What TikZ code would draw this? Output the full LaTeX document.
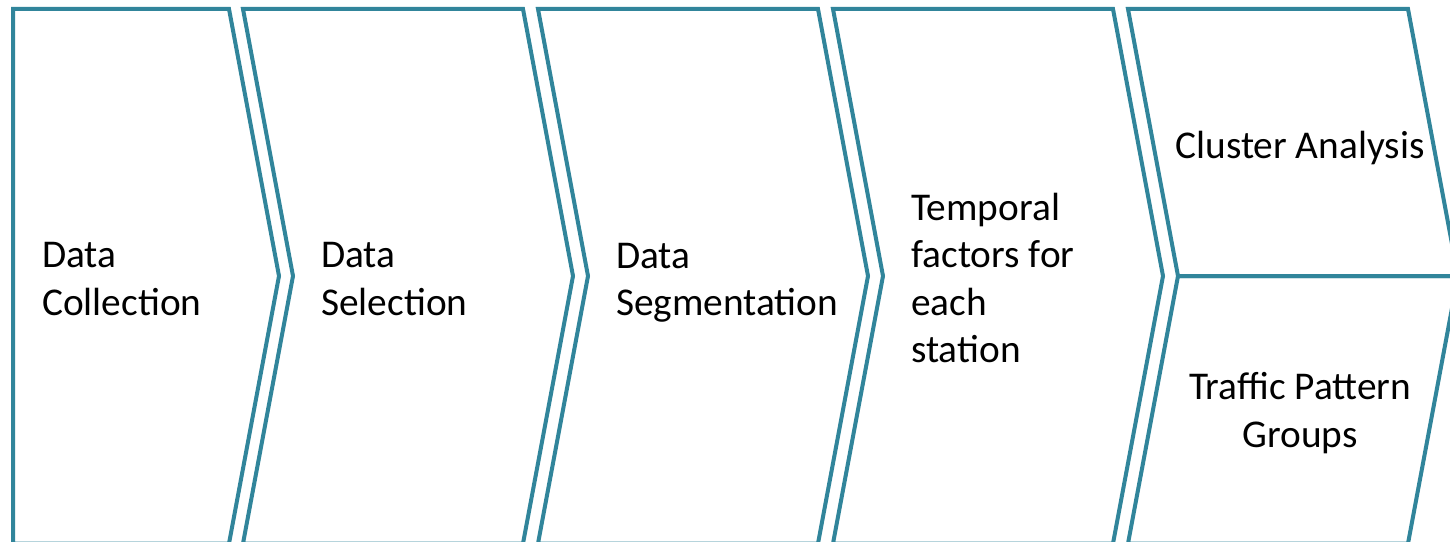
\documentclass[tikz,border=0pt]{standalone}
\usepackage{fontspec}
\setmainfont{Carlito}
\usepackage{tikz}
\usetikzlibrary{positioning}
\definecolor{chevteal}{RGB}{49,133,155}

\begin{document}
\begin{tikzpicture}[x=0.75pt,y=0.75pt,yscale=-1,xscale=1,
  chevron/.style={draw=chevteal,line width=3pt,line join=miter},
  steptext/.style={inner sep=0pt,align=left,font=\fontsize{29.5}{35.5}\selectfont},
  halftext/.style={inner sep=0pt,align=center,font=\fontsize{29.5}{35.5}\selectfont}]
\useasboundingbox (0,0) rectangle (1450,542);

%Shape: Chevron (first, flat back)
\draw [chevron]  (13,9) -- (229,9) -- (279,276) -- (229,543.5) -- (13,543.5) -- cycle ;
%Shape: Chevron
\draw [chevron]  (243,9) -- (523,9) -- (573,276) -- (523,543.5) -- (243,543.5) -- (293,276) -- cycle ;
%Shape: Chevron
\draw [chevron]  (538,9) -- (818,9) -- (868,276) -- (818,543.5) -- (538,543.5) -- (588,276) -- cycle ;
%Shape: Chevron
\draw [chevron]  (833,9) -- (1113,9) -- (1163,276) -- (1113,543.5) -- (833,543.5) -- (883,276) -- cycle ;
%Shape: Chevron upper half
\draw [chevron]  (1128,9) -- (1408,9) -- (1458,276) -- (1178,276) -- cycle ;
%Shape: Chevron lower half
\draw [chevron]  (1178,276) -- (1458,276) -- (1408,543.5) -- (1128,543.5) -- cycle ;

% Text Node
\node (collect) at (42,279) [anchor=west,steptext] {Data\\Collection};
% Text Node
\node (select) at (321,279) [anchor=west,steptext] {Data\\Selection};
% Text Node
\node (segment) at (616,283) [anchor=west,steptext] {Data\\Segmentation};
% Text Node
\node (temporal) at (911,278) [anchor=west,steptext] {Temporal\\factors for\\each\\station};
% Text Node
\node (cluster) at (1300,148) [halftext] {Cluster Analysis};
% Text Node
\node (groups) at (1300,413) [halftext] {Traffic Pattern\\Groups};
\end{tikzpicture}
\end{document}
